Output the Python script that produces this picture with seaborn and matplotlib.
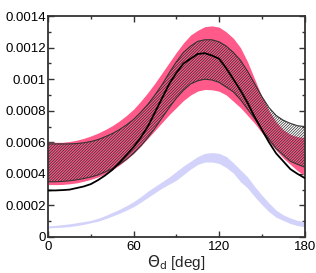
import numpy as np
import pandas as pd
import matplotlib
matplotlib.use("Agg")
import matplotlib.pyplot as plt
import seaborn as sns

# ---- data (every 5 degrees) ----
theta = list(range(0, 181, 5))

pink_upper = [0.000600, 0.000600, 0.000600, 0.000605, 0.000613, 0.000625, 0.000640, 0.000658,
              0.000680, 0.000705, 0.000735, 0.000770, 0.000810, 0.000860, 0.000915, 0.000975,
              0.001040, 0.001105, 0.001170, 0.001230, 0.001280, 0.001310, 0.001333, 0.001338,
              0.001330, 0.001300, 0.001260, 0.001200, 0.001110, 0.001000, 0.000890, 0.000800,
              0.000730, 0.000680, 0.000650, 0.000635, 0.000630]
pink_lower = [0.000332, 0.000332, 0.000333, 0.000337, 0.000343, 0.000353, 0.000365, 0.000380,
              0.000400, 0.000425, 0.000455, 0.000490, 0.000530, 0.000575, 0.000625, 0.000675,
              0.000725, 0.000775, 0.000820, 0.000865, 0.000900, 0.000925, 0.000935, 0.000933,
              0.000924, 0.000900, 0.000860, 0.000820, 0.000770, 0.000720, 0.000660, 0.000605,
              0.000550, 0.000500, 0.000460, 0.000420, 0.000390]

hatch_upper = [0.000590, 0.000590, 0.000590, 0.000590, 0.000592, 0.000597, 0.000605, 0.000617,
               0.000635, 0.000655, 0.000680, 0.000710, 0.000745, 0.000790, 0.000840, 0.000900,
               0.000965, 0.001040, 0.001110, 0.001170, 0.001210, 0.001240, 0.001250, 0.001250,
               0.001237, 0.001210, 0.001170, 0.001120, 0.001050, 0.000970, 0.000890, 0.000820,
               0.000770, 0.000740, 0.000720, 0.000705, 0.000700]
hatch_lower = [0.000350, 0.000350, 0.000352, 0.000356, 0.000362, 0.000370, 0.000380, 0.000393,
               0.000412, 0.000433, 0.000460, 0.000492, 0.000530, 0.000577, 0.000630, 0.000690,
               0.000755, 0.000820, 0.000880, 0.000930, 0.000970, 0.000990, 0.001000, 0.000995,
               0.000980, 0.000950, 0.000920, 0.000870, 0.000810, 0.000750, 0.000680, 0.000620,
               0.000560, 0.000520, 0.000480, 0.000460, 0.000443]

black_line = [0.000295, 0.000295, 0.000297, 0.000300, 0.000310, 0.000320, 0.000335, 0.000360,
              0.000390, 0.000425, 0.000470, 0.000520, 0.000570, 0.000630, 0.000700, 0.000790,
              0.000880, 0.000970, 0.001040, 0.001100, 0.001130, 0.001160, 0.001165, 0.001150,
              0.001130, 0.001070, 0.001000, 0.000930, 0.000850, 0.000760, 0.000680, 0.000600,
              0.000530, 0.000480, 0.000430, 0.000400, 0.000374]

blue_upper = [0.000070, 0.000073, 0.000078, 0.000083, 0.000090, 0.000097, 0.000105, 0.000118,
              0.000135, 0.000155, 0.000175, 0.000198, 0.000224, 0.000255, 0.000290, 0.000320,
              0.000350, 0.000380, 0.000415, 0.000450, 0.000480, 0.000510, 0.000530, 0.000535,
              0.000530, 0.000510, 0.000470, 0.000425, 0.000380, 0.000320, 0.000265, 0.000215,
              0.000170, 0.000140, 0.000120, 0.000105, 0.000097]
blue_lower = [0.000057, 0.000060, 0.000062, 0.000066, 0.000072, 0.000080, 0.000090, 0.000100,
              0.000115, 0.000132, 0.000150, 0.000170, 0.000192, 0.000220, 0.000250, 0.000280,
              0.000310, 0.000335, 0.000360, 0.000395, 0.000430, 0.000460, 0.000475, 0.000475,
              0.000466, 0.000440, 0.000405, 0.000350, 0.000310, 0.000255, 0.000205, 0.000160,
              0.000125, 0.000105, 0.000085, 0.000072, 0.000065]

xticks = [0, 60, 120, 180]
yticks = [0, 0.0002, 0.0004, 0.0006, 0.0008, 0.001, 0.0012, 0.0014]
ytick_labels = ["0", "0.0002", "0.0004", "0.0006", "0.0008", "0.001", "0.0012", "0.0014"]

df = pd.DataFrame({"theta": theta, "black": black_line})

sns.set_theme(style="ticks")
plt.rcParams["font.family"] = ["Liberation Sans", "DejaVu Sans"]
plt.rcParams["hatch.linewidth"] = 0.5
plt.rcParams["hatch.color"] = "#2a2a2a"

fig = plt.figure(figsize=(3.16, 2.73), dpi=100)
ax = fig.add_axes([0.152, 0.132, 0.812, 0.809])

# blue band
ax.fill_between(theta, blue_lower, blue_upper, color="#d2d2fb", linewidth=0, zorder=1)
# pink band
ax.fill_between(theta, pink_lower, pink_upper, color="#ff5a8a", linewidth=0, zorder=2)
# hatched band
ax.fill_between(theta, hatch_lower, hatch_upper, facecolor="none", edgecolor="#2a2a2a",
                hatch="////////////", linewidth=0, zorder=3)
ax.plot(theta, hatch_upper, color="#333333", lw=0.8, zorder=4)
ax.plot(theta, hatch_lower, color="#333333", lw=0.8, zorder=4)
# black line
sns.lineplot(data=df, x="theta", y="black", color="black", lw=1.3, ax=ax, zorder=5)

ax.set_xlim(0, 180)
ax.set_ylim(0, 0.0014)
ax.set_xticks(xticks)
ax.set_xticklabels([str(t) for t in xticks])
ax.set_yticks(yticks)
ax.set_yticklabels(ytick_labels)
ax.set_xticks([30, 90, 150], minor=True)
ax.set_yticks([0.0001, 0.0003, 0.0005, 0.0007, 0.0009, 0.0011, 0.0013], minor=True)
ax.tick_params(which="both", direction="in", top=True, right=True,
               labelsize=9.5, colors="#333333", labelcolor="black")
ax.tick_params(axis="y", pad=1.5)
ax.tick_params(axis="x", pad=3)
ax.tick_params(which="major", length=4, width=1)
ax.tick_params(which="minor", length=2.5, width=1)
for s in ax.spines.values():
    s.set_linewidth(1.3)
    s.set_color("#333333")
ax.set_xlabel(r"$\Theta_{\rm d}$ [deg]", fontsize=11, labelpad=0)
ax.set_ylabel("")

fig.savefig("out.png", dpi=100)
